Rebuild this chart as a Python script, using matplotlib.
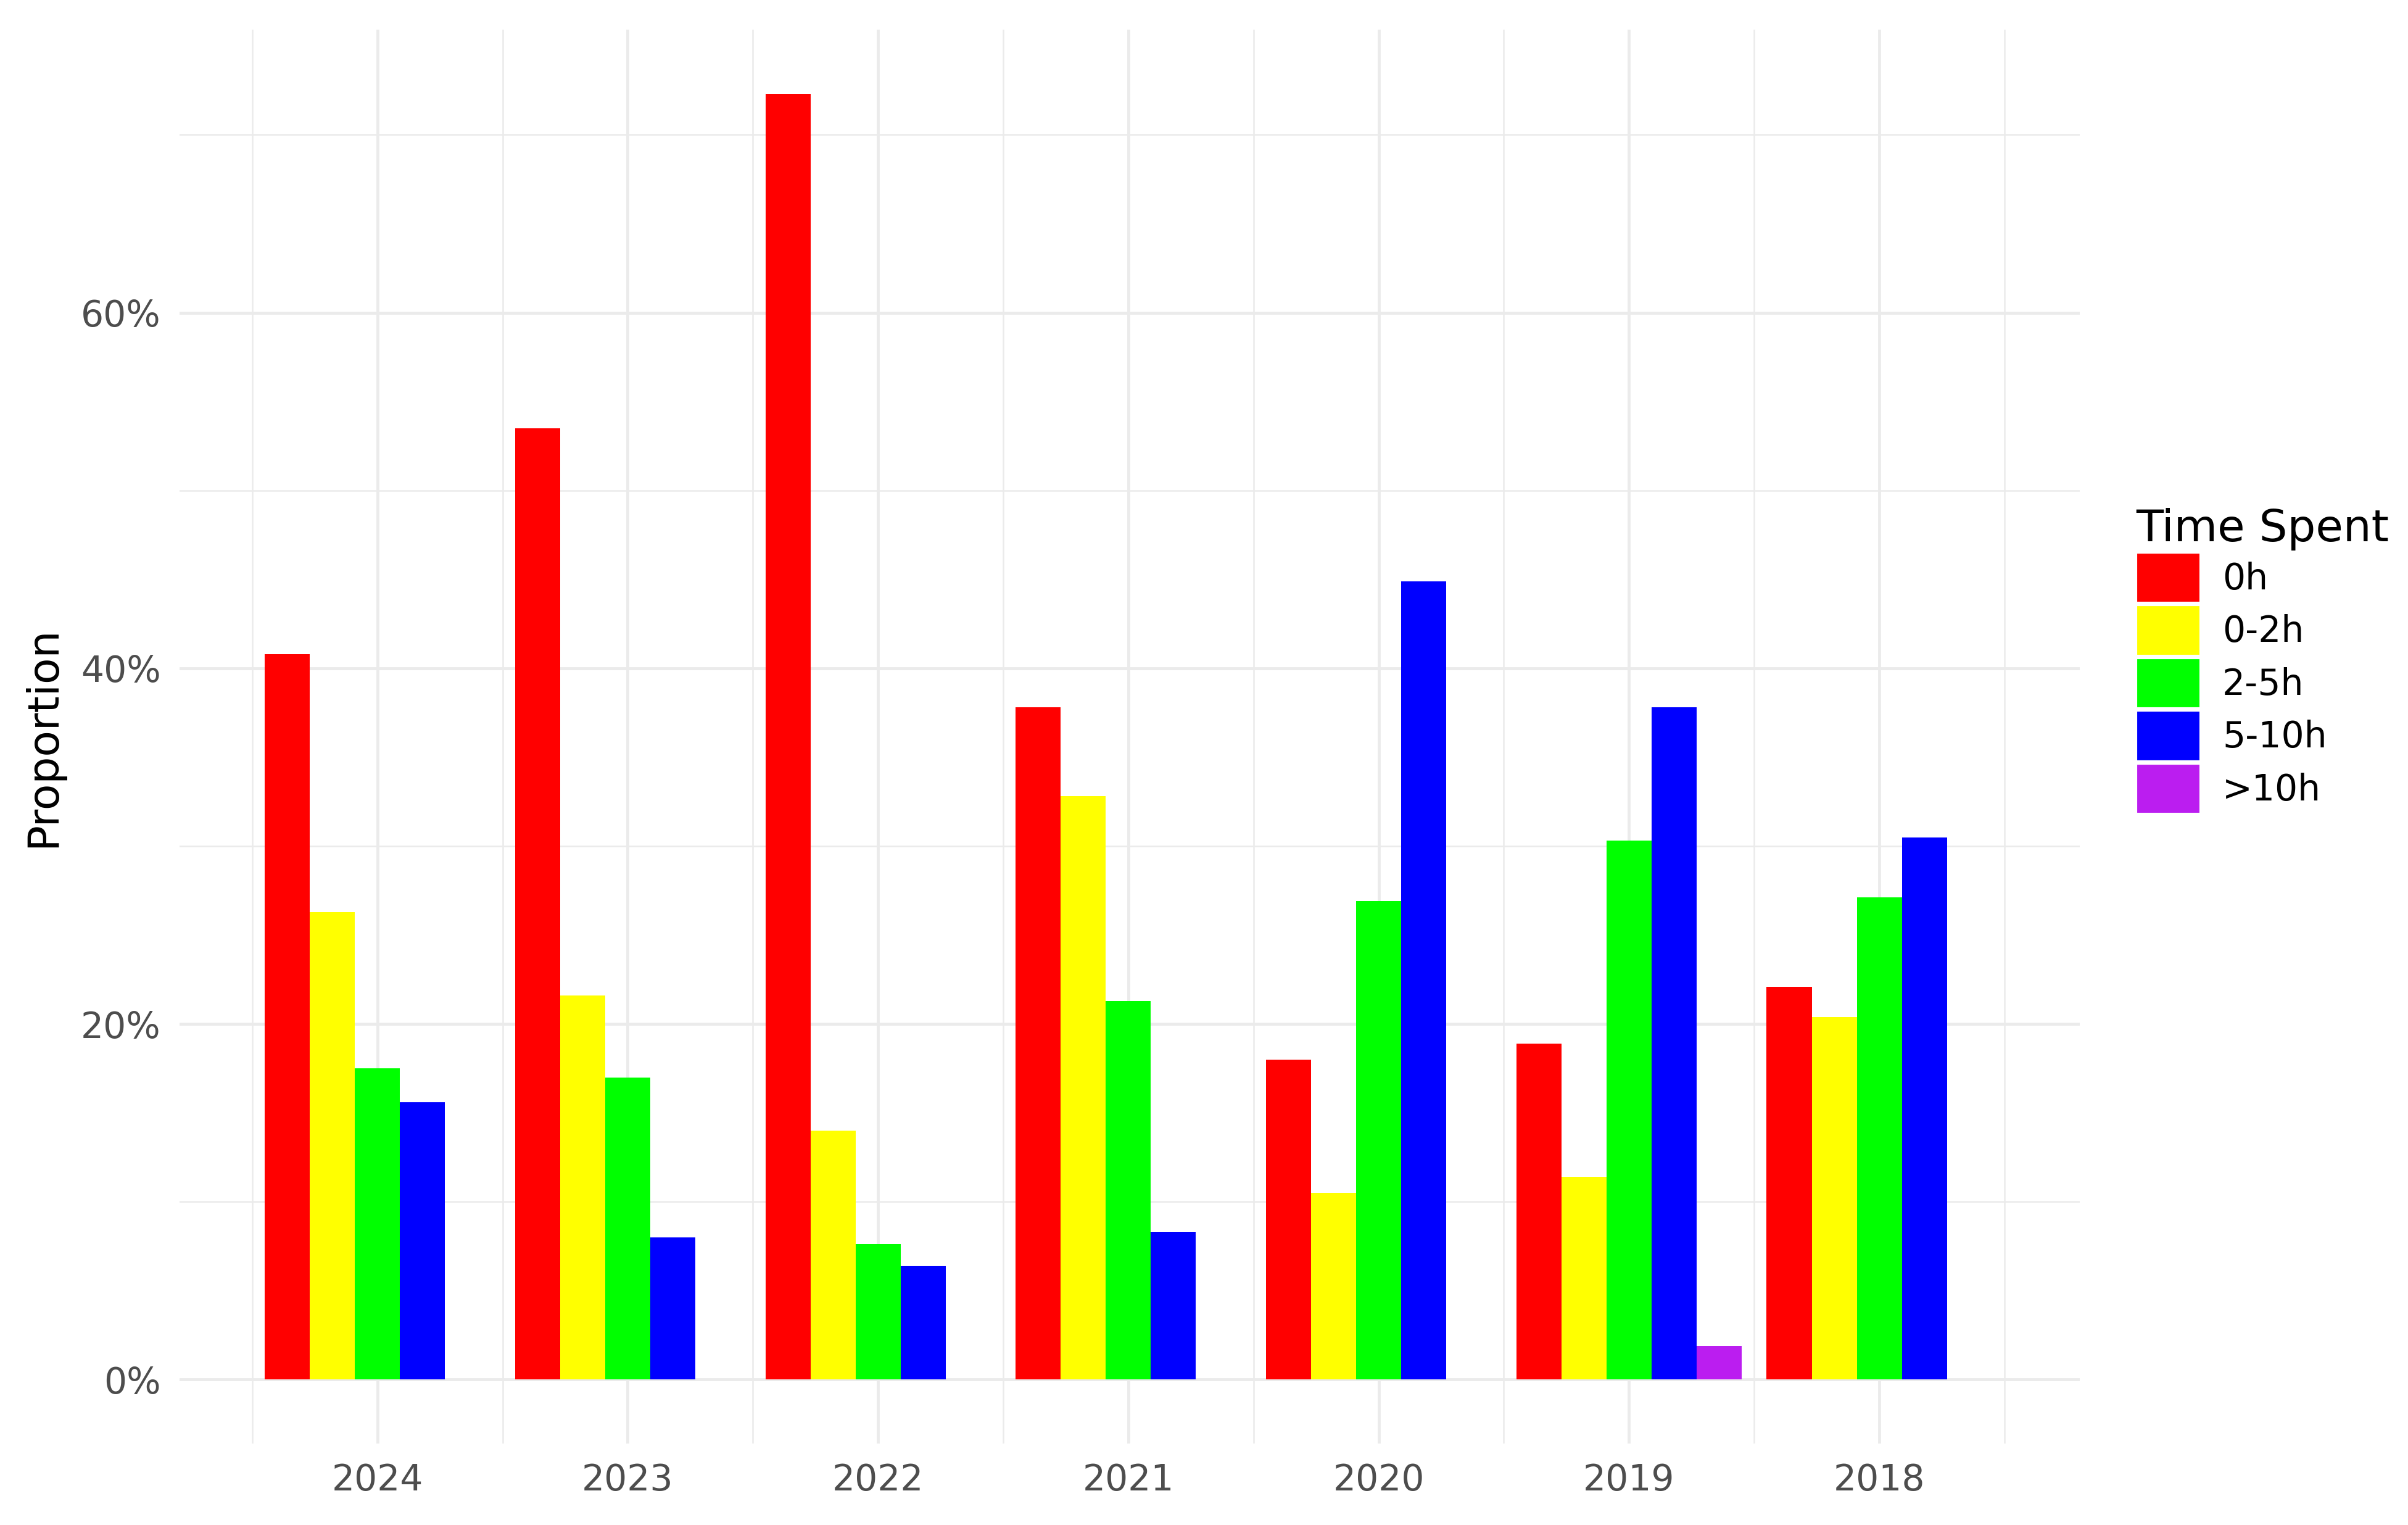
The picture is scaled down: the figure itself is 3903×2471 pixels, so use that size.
import numpy as np
import matplotlib.pyplot as plt
from matplotlib.patches import Patch
from matplotlib.ticker import FuncFormatter, MultipleLocator

years = ["2024", "2023", "2022", "2021", "2020", "2019", "2018"]
groups = ["0h", "0-2h", "2-5h", "5-10h", ">10h"]
colors = ["#FF0000", "#FFFF00", "#00FF00", "#0000FF", "#BB1DF0"]

# proportion (%) per year for each time group
p_0h = [40.8, 53.5, 72.3, 37.8, 18.0, 18.9, 22.1]
p_0_2h = [26.3, 21.6, 14.0, 32.8, 10.5, 11.4, 20.4]
p_2_5h = [17.5, 17.0, 7.6, 21.3, 26.9, 30.3, 27.1]
p_5_10h = [15.6, 8.0, 6.4, 8.3, 44.9, 37.8, 30.5]
p_10h = [np.nan, np.nan, np.nan, np.nan, np.nan, 1.9, np.nan]
series = [p_0h, p_0_2h, p_2_5h, p_5_10h, p_10h]

plt.rcParams["font.family"] = ["DejaVu Sans"]
fig = plt.figure(figsize=(39.03, 24.71), dpi=100)
ax = fig.add_axes([0.0746, 0.0534, 0.789, 0.927])

x = np.arange(1, len(years) + 1)
w = 0.9 / 5
for i, (vals, c) in enumerate(zip(series, colors)):
    vals = np.array(vals)
    ok = ~np.isnan(vals)
    ax.bar(x[ok] + (i - 2) * w, vals[ok], width=w, color=c, zorder=2)

ax.set_xlim(0.21, 7.80)
ax.set_ylim(-3.6, 75.9)
ax.set_xticks(x)
ax.set_xticklabels(years)
ax.set_xticks(np.arange(0.5, 8, 1), minor=True)
ax.yaxis.set_major_locator(MultipleLocator(20))
ax.yaxis.set_minor_locator(MultipleLocator(10))
ax.yaxis.set_major_formatter(FuncFormatter(lambda v, _: f"{v:.0f}%"))
ax.grid(True, which="major", color="#EBEBEB", linewidth=3.5, zorder=0)
ax.grid(True, which="minor", color="#EBEBEB", linewidth=1.8, zorder=0)
ax.set_axisbelow(True)
for s in ax.spines.values():
    s.set_visible(False)
ax.tick_params(which="both", length=0, labelsize=42, labelcolor="#4D4D4D", pad=22)
ax.set_ylabel("Proportion", fontsize=50, labelpad=20)

handles = [Patch(facecolor=c, edgecolor="white", linewidth=3) for c in colors]
fig.legend(handles, groups, title="Time Spent", loc="upper left",
           bbox_to_anchor=(0.887, 0.667), frameon=False, fontsize=42,
           title_fontsize=52, handlelength=1.8, handleheight=1.8,
           handletextpad=0.6, labelspacing=0.05, alignment="left",
           borderaxespad=0, borderpad=0)

fig.savefig("out.png", dpi=100, facecolor="white")
